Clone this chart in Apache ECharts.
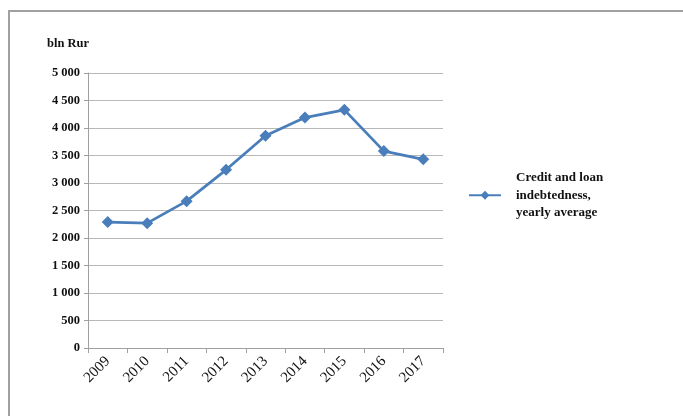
<!DOCTYPE html>
<html><head><meta charset="utf-8">
<script src="https://cdn.jsdelivr.net/npm/echarts@6/dist/echarts.min.js"></script>
<style>
html,body{margin:0;padding:0;background:#fff;}
#frame{position:absolute;left:8px;top:10px;width:700px;height:420px;border-left:2px solid #a0a0a0;border-top:2px solid #a0a0a0;}
#c{position:absolute;left:0;top:0;width:683px;height:416px;}
</style></head>
<body>
<div id="frame"></div>
<div id="c"></div>
<script>
const years = ['2009','2010','2011','2012','2013','2014','2015','2016','2017'];
const credit = [2290, 2270, 2670, 3240, 3860, 4190, 4330, 3580, 3430];
const seriesName = 'Credit and loan\nindebtedness,\nyearly average';
const unitLabel = 'bln Rur';

const chart = echarts.init(document.getElementById('c'), null, {renderer:'canvas'});
const serif = '"Liberation Serif","Times New Roman",serif';
chart.setOption({
  animation:false,
  backgroundColor:'transparent',
  grid:{left:88,right:240,top:73,bottom:68},
  legend:{
    data:[{name:seriesName}],
    left:463, top:164, orient:'vertical',
    itemWidth:32, itemHeight:11, itemGap:10,
    textStyle:{fontFamily:serif,fontSize:13,fontWeight:'bold',color:'#111',lineHeight:17.5,padding:[0,0,0,10]}
  },
  graphic:[{type:'text',left:47,top:37,style:{text:unitLabel,font:'bold 12.5px '+serif,fill:'#111'}}],
  xAxis:{
    type:'category',data:years,boundaryGap:true,
    axisLine:{lineStyle:{color:'#a0a0a0',width:1}},
    axisTick:{show:true,length:5,lineStyle:{color:'#a0a0a0'}},
    axisLabel:{rotate:45,fontFamily:serif,fontSize:15,color:'#111',margin:11}
  },
  yAxis:{
    type:'value',min:0,max:5000,interval:500,
    axisLine:{show:true,lineStyle:{color:'#a0a0a0',width:1}},
    axisTick:{show:true,length:4,lineStyle:{color:'#a0a0a0'}},
    splitLine:{lineStyle:{color:'#b8b8b8',width:1}},
    axisLabel:{fontFamily:serif,fontSize:12.5,fontWeight:'bold',color:'#111',margin:8,
      formatter:v=>String(v).replace(/\B(?=(\d{3})+(?!\d))/g,' ')}
  },
  series:[{
    name:seriesName,type:'line',data:credit,
    symbol:'diamond',symbolSize:12,
    lineStyle:{color:'#4a7ebb',width:2.8},
    itemStyle:{color:'#4a7ebb'}
  }]
});
</script>
</body></html>
